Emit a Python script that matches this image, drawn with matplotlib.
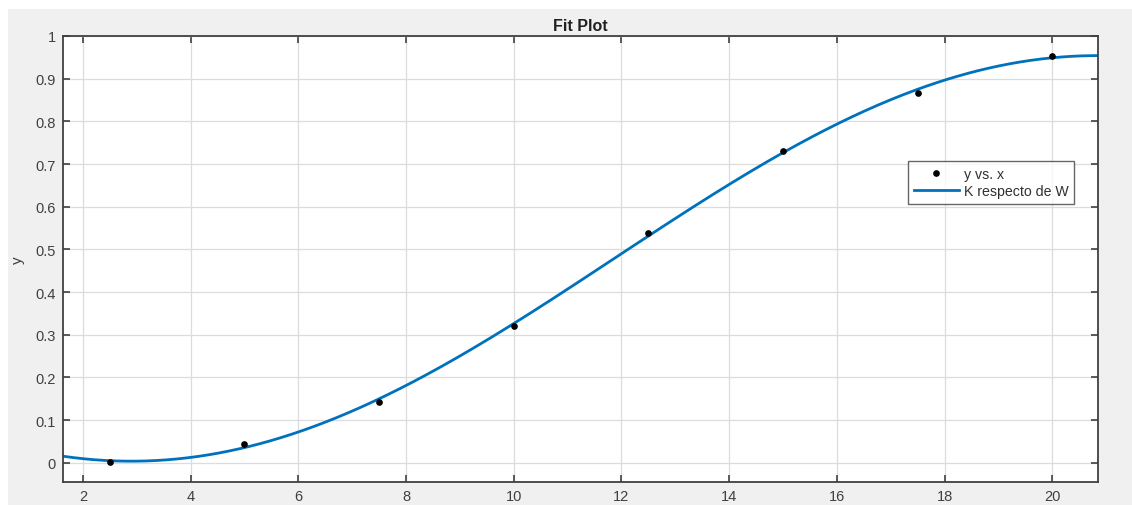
import numpy as np
import matplotlib
matplotlib.use("Agg")
import matplotlib.pyplot as plt
from matplotlib.patches import Rectangle

x_data = [2.5, 5.0, 7.5, 10.0, 12.5, 15.0, 17.5, 20.0]
y_data = [0.002, 0.0445, 0.1436, 0.320, 0.539, 0.7314, 0.8658, 0.9524]
x_ticks = [2, 4, 6, 8, 10, 12, 14, 16, 18, 20]
y_ticks = [0, 0.1, 0.2, 0.3, 0.4, 0.5, 0.6, 0.7, 0.8, 0.9, 1]
y_tick_labels = ["0", "0.1", "0.2", "0.3", "0.4", "0.5", "0.6", "0.7", "0.8", "0.9", "1"]
x_range = (1.63, 20.85)
y_range = (-0.045, 1.0)

plt.rcParams['font.family'] = ['Liberation Sans', 'DejaVu Sans']

W, H = 1132, 506
fig = plt.figure(figsize=(W / 100, H / 100), dpi=100, facecolor='white')
fig.patches.append(Rectangle((8 / W, 0), 1 - 8 / W, 1 - 10 / H, transform=fig.transFigure,
                             facecolor='#f0f0f0', edgecolor='none', zorder=-10))

ax = fig.add_axes([63 / W, 1 - 483 / H, (1098 - 63) / W, (483 - 37) / H])
ax.set_facecolor('white')

# Fourier (1 term) least-squares fit of the data: a0 + a1*cos(w x) + b1*sin(w x)
xd = np.asarray(x_data)
yd = np.asarray(y_data)
best = None
for w in np.linspace(0.05, 0.4, 3501):
    A = np.column_stack([np.ones_like(xd), np.cos(w * xd), np.sin(w * xd)])
    c, res, *_ = np.linalg.lstsq(A, yd, rcond=None)
    r = np.sum((A @ c - yd) ** 2)
    if best is None or r < best[0]:
        best = (r, w, c)
_, wb, cb = best
xf = np.linspace(x_range[0], x_range[1], 400)
yf = cb[0] + cb[1] * np.cos(wb * xf) + cb[2] * np.sin(wb * xf)

ax.plot(xd, yd, 'o', color='black', markersize=3.8, label='y vs. x', zorder=3)
ax.plot(xf, yf, '-', color='#0072BD', linewidth=2, label='K respecto de W', zorder=2)

ax.set_xlim(*x_range)
ax.set_ylim(*y_range)
ax.set_xticks(x_ticks)
ax.set_yticks(y_ticks)
ax.set_yticklabels(y_tick_labels)
ax.grid(True, color='#dcdcdc', linewidth=0.9)
ax.set_axisbelow(True)
ax.tick_params(direction='in', length=5, width=1.2, colors='#404040', labelcolor='#404040',
               labelsize=10.5, top=True, right=True, pad=5)
for s in ax.spines.values():
    s.set_color('#404040')
    s.set_linewidth(1.3)

ax.set_title('Fit Plot', fontsize=11.5, fontweight='bold', color='#202020', pad=4)
ax.set_ylabel('y', fontsize=11, color='#404040', labelpad=8)

leg = ax.legend(loc='upper left', bbox_to_anchor=(908 / W, 1 - 162 / H), bbox_transform=fig.transFigure,
                fontsize=10.2, frameon=True, fancybox=False, borderpad=0.4, handlelength=3.2,
                handletextpad=0.35, labelspacing=0.25, borderaxespad=0, markerscale=1.0)
leg.get_frame().set_edgecolor('#404040')
leg.get_frame().set_linewidth(1.0)
for t in leg.get_texts():
    t.set_color('#303030')

fig.savefig('out.png', dpi=100, facecolor=fig.get_facecolor())
